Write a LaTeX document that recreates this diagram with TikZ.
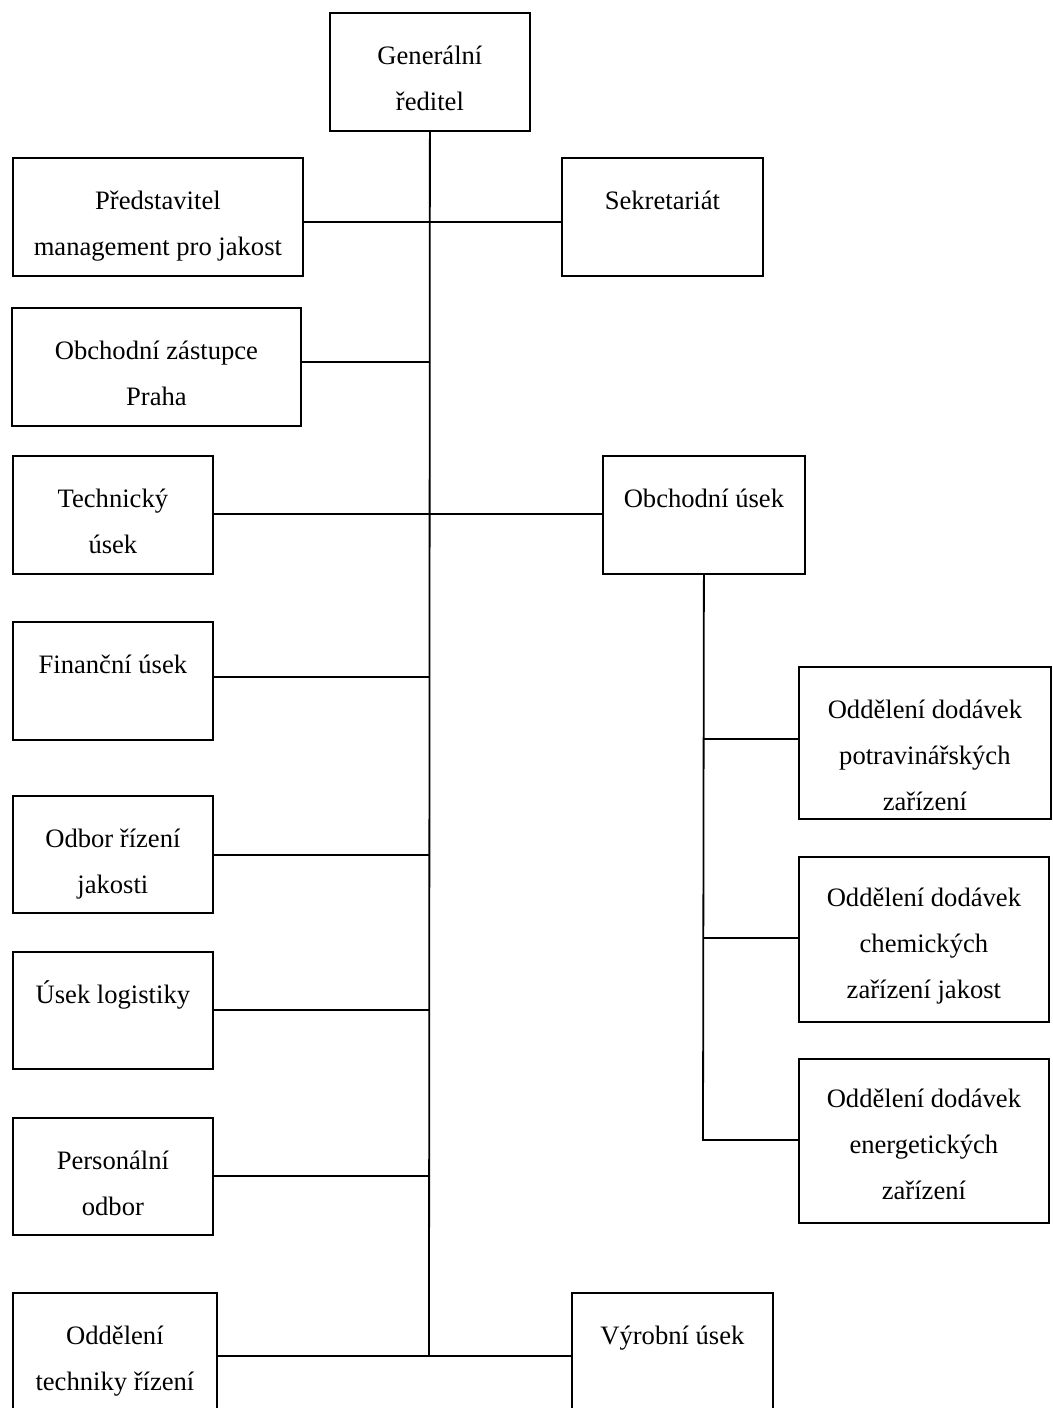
\documentclass[tikz,border=0pt]{standalone}
\usepackage{fontspec}
\setmainfont{Liberation Serif}
\begin{document}
\begin{tikzpicture}[x=1pt,y=-1pt,
  box/.style={draw=black,line width=1.8pt,rectangle,inner sep=0pt,anchor=north west},
  txt/.style={font=\fontsize{26.6}{46}\selectfont,align=center,inner sep=0pt,anchor=north,yshift=-19.8pt},
  conn/.style={draw=black,line width=1.8pt}]
\clip (0,0) rectangle (1052,1408);
\fill[white] (0,0) rectangle (1052,1408);
% boxes
\node[box,minimum width=200pt,minimum height=118pt] (gen) at (329,12) {};
\node[txt] (gent) at (gen.north) {\strut Generální\\ředitel};
\node[box,minimum width=290pt,minimum height=118pt] (pred) at (12,157) {};
\node[txt] (predt) at (pred.north) {\strut Představitel\\management pro jakost};
\node[box,minimum width=201pt,minimum height=118pt] (sek) at (561,157) {};
\node[txt] (sekt) at (sek.north) {\strut Sekretariát};
\node[box,minimum width=289pt,minimum height=118pt] (obz) at (11,307) {};
\node[txt] (obzt) at (obz.north) {\strut Obchodní zástupce\\Praha};
\node[box,minimum width=200pt,minimum height=118pt] (tech) at (12,455) {};
\node[txt] (techt) at (tech.north) {\strut Technický\\úsek};
\node[box,minimum width=202pt,minimum height=118pt] (obu) at (602,455) {};
\node[txt] (obut) at (obu.north) {\strut Obchodní úsek};
\node[box,minimum width=200pt,minimum height=118pt] (fin) at (12,621) {};
\node[txt] (fint) at (fin.north) {\strut Finanční úsek};
\node[box,minimum width=200pt,minimum height=117pt] (odb) at (12,795) {};
\node[txt] (odbt) at (odb.north) {\strut Odbor řízení\\jakosti};
\node[box,minimum width=200pt,minimum height=117pt] (log) at (12,951) {};
\node[txt] (logt) at (log.north) {\strut Úsek logistiky};
\node[box,minimum width=200pt,minimum height=117pt] (per) at (12,1117) {};
\node[txt] (pert) at (per.north) {\strut Personální\\odbor};
\node[box,minimum width=204pt,minimum height=160pt] (odt) at (12,1292) {};
\node[txt] (odtt) at (odt.north) {\strut Oddělení\\techniky řízení};
\node[box,minimum width=201pt,minimum height=160pt] (vyr) at (571,1292) {};
\node[txt] (vyrt) at (vyr.north) {\strut Výrobní úsek};
\node[box,minimum width=252pt,minimum height=152pt] (d1) at (798,666) {};
\node[txt] (d1t) at (d1.north) {\strut Oddělení dodávek\\potravinářských\\zařízení};
\node[box,minimum width=250pt,minimum height=165pt] (d2) at (798,856) {};
\node[txt,yshift=2pt] (d2t) at (d2.north) {\strut Oddělení dodávek\\chemických\\zařízení jakost};
\node[box,minimum width=250pt,minimum height=164pt] (d3) at (798,1058) {};
\node[txt,yshift=3pt] (d3t) at (d3.north) {\strut Oddělení dodávek\\energetických\\zařízení};
% junction coordinates
\coordinate (j1) at (429,222);
\coordinate (j2) at (429,362);
\coordinate (j3) at (429,514);
\coordinate (j4) at (429,677);
\coordinate (j5) at (429,855);
\coordinate (j6) at (429,1010);
\coordinate (j7) at (429,1176);
\coordinate (tbot) at (429,1356);
\coordinate (k1) at (703,739);
\coordinate (k2) at (703,938);
\coordinate (k3) at (703,1140);
% connectors
\draw[conn] (gen.south) -- (tbot);
\draw[conn] (pred.east |- j1) -- (sek.west |- j1);
\draw[conn] (obz.east |- j2) -- (j2);
\draw[conn] (tech.east |- j3) -- (obu.west |- j3);
\draw[conn] (fin.east |- j4) -- (j4);
\draw[conn] (odb.east |- j5) -- (j5);
\draw[conn] (log.east |- j6) -- (j6);
\draw[conn] (per.east |- j7) -- (j7);
\draw[conn] (odt.east |- tbot) -- (vyr.west |- tbot);
\draw[conn] (obu.south) -- (k3) -- (d3.west |- k3);
\draw[conn] (k1) -- (d1.west |- k1);
\draw[conn] (k2) -- (d2.west |- k2);
\end{tikzpicture}
\end{document}
